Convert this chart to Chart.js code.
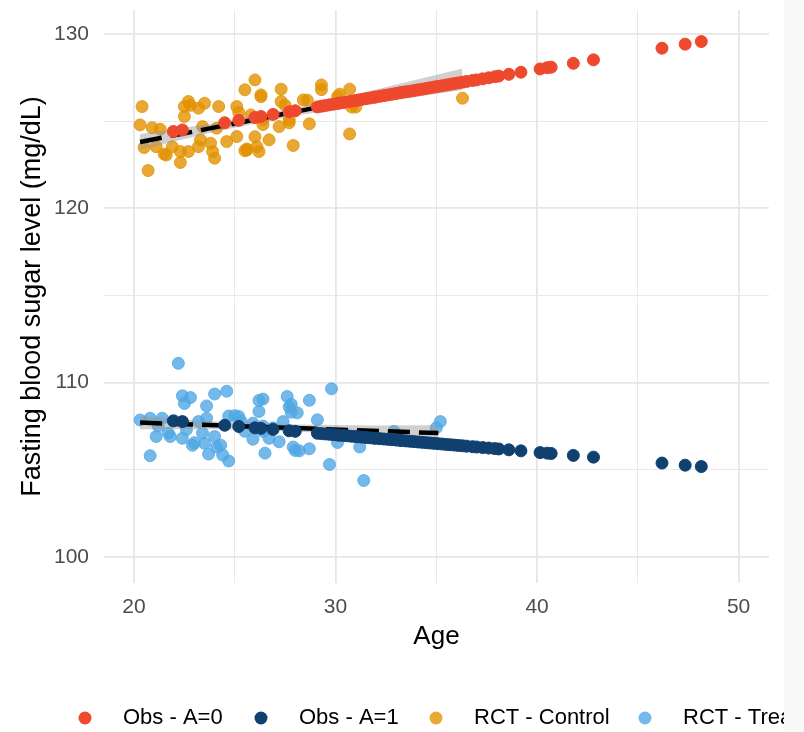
<!DOCTYPE html>
<html>
<head>
<meta charset="utf-8">
<script src="https://cdn.jsdelivr.net/npm/chart.js@4"></script>
<style>
  html, body { margin: 0; padding: 0; background: #fff; }
  #wrap { position: relative; width: 804px; height: 732px; overflow: hidden; }
  #strip { position: absolute; top: 0; left: 784px; width: 20px; height: 732px; background: #f8f8f8; }
</style>
</head>
<body>
<div id="wrap">
  <canvas id="chart" width="804" height="732"></canvas>
  <div id="strip"></div>
</div>
<script>
// observational cohort: ages shared by both arms
const obsAge = [21.95, 22.4, 24.5, 25.2, 26.0, 26.3, 26.9, 27.7, 28.0, 29.1, 29.3, 29.5, 29.7, 29.9,
  30.1, 30.2, 30.4, 30.6, 30.8, 31.0, 31.1, 31.3, 31.5, 31.7, 31.9, 32.0, 32.2, 32.4, 32.6, 32.8,
  33.0, 33.2, 33.3, 33.5, 33.7, 33.9, 34.1, 34.3, 34.5, 34.7, 34.9, 35.1, 35.3, 35.5, 35.7, 35.9,
  36.1, 36.3, 36.5, 36.8, 37.0, 37.3, 37.6, 37.9, 38.1, 38.6, 39.2, 40.15, 40.5, 40.7, 41.8, 42.8,
  46.2, 47.35, 48.15];
const obsA0 = [124.40, 124.49, 124.90, 125.04, 125.20, 125.26, 125.38, 125.53, 125.59, 125.81, 125.85,
  125.89, 125.93, 125.97, 126.01, 126.03, 126.06, 126.10, 126.14, 126.18, 126.20, 126.24, 126.28,
  126.32, 126.36, 126.38, 126.42, 126.46, 126.50, 126.54, 126.58, 126.62, 126.64, 126.68, 126.71,
  126.75, 126.79, 126.83, 126.87, 126.91, 126.95, 126.99, 127.03, 127.07, 127.11, 127.15, 127.19,
  127.23, 127.27, 127.33, 127.36, 127.42, 127.48, 127.54, 127.58, 127.68, 127.80, 127.99, 128.06,
  128.09, 128.31, 128.51, 129.18, 129.41, 129.56];
const obsA1 = [107.80, 107.76, 107.55, 107.48, 107.40, 107.37, 107.31, 107.23, 107.20, 107.09, 107.07,
  107.05, 107.03, 107.01, 106.99, 106.98, 106.96, 106.94, 106.92, 106.90, 106.89, 106.87, 106.85,
  106.83, 106.81, 106.80, 106.78, 106.76, 106.74, 106.72, 106.70, 106.68, 106.67, 106.65, 106.63,
  106.61, 106.59, 106.57, 106.55, 106.53, 106.51, 106.49, 106.47, 106.45, 106.43, 106.41, 106.39,
  106.37, 106.35, 106.32, 106.30, 106.27, 106.24, 106.21, 106.19, 106.14, 106.08, 105.98, 105.95,
  105.93, 105.82, 105.72, 105.38, 105.26, 105.18];

// RCT control arm
const ctrlAge = [20.4, 20.3, 20.9, 21.3, 20.5, 20.7, 21.1, 21.5, 21.6, 21.9, 22.3, 22.3, 22.7, 22.5,
  22.5, 22.7, 22.8, 23.2, 23.5, 23.2, 23.3, 23.8, 23.9, 24.0, 24.2, 23.4, 24.1, 24.6, 25.1, 25.2,
  25.1, 25.5, 26.0, 26.3, 26.3, 25.6, 25.6, 26.0, 26.1, 26.2, 26.4, 25.8, 26.4, 26.7, 27.2, 27.3,
  27.3, 27.5, 27.7, 27.9, 28.4, 28.7, 29.3, 29.3, 30.2, 30.7, 30.7, 30.8, 36.3, 30.1, 27.7, 25.5,
  28.6, 31.0];
const ctrlY = [125.83, 124.78, 124.62, 124.53, 123.48, 122.16, 123.53, 123.10, 123.05, 123.53, 122.62,
  123.25, 123.25, 125.26, 125.83, 126.12, 125.90, 125.74, 126.02, 123.53, 123.92, 123.73, 123.25,
  122.87, 125.83, 124.68, 124.59, 123.82, 125.83, 125.49, 124.11, 126.79, 127.36, 126.50, 126.40,
  123.34, 123.40, 124.10, 123.53, 123.25, 124.80, 125.35, 125.07, 123.92, 124.68, 126.83, 126.12,
  125.90, 125.07, 123.60, 126.21, 124.84, 127.07, 126.80, 126.54, 126.83, 124.26, 125.80, 126.31,
  126.40, 124.90, 123.30, 126.20, 125.80];

// RCT treated arm
const trtAge = [22.2, 22.4, 22.8, 22.5, 20.3, 20.8, 21.4, 21.1, 20.8, 21.7, 21.8, 22.4, 22.9, 23.0,
  23.2, 23.4, 23.6, 23.6, 23.5, 23.7, 24.0, 24.0, 24.1, 24.3, 24.4, 24.6, 24.7, 24.7, 25.0, 25.2,
  25.3, 25.9, 25.9, 26.2, 26.2, 26.4, 26.4, 26.4, 26.5, 26.7, 27.2, 27.4, 27.6, 27.7, 27.8, 27.8,
  27.9, 28.0, 28.1, 28.2, 28.7, 28.7, 29.1, 29.8, 29.7, 30.1, 31.4, 31.2, 35.2, 35.0, 32.9, 21.2,
  22.0, 22.6, 25.5, 26.9];
const trtY = [111.10, 109.24, 109.14, 108.80, 107.85, 107.95, 107.95, 106.90, 105.80, 107.10, 106.90,
  106.80, 106.40, 106.55, 107.76, 107.10, 108.66, 107.95, 106.51, 105.90, 109.34, 106.90, 106.30,
  106.40, 105.84, 109.50, 105.50, 108.08, 108.10, 108.05, 107.80, 107.67, 106.75, 108.34, 108.97,
  109.05, 107.50, 107.20, 105.95, 106.80, 106.60, 107.76, 109.20, 108.60, 108.30, 108.75, 106.30,
  106.10, 108.26, 106.08, 108.98, 106.20, 107.86, 109.64, 105.30, 106.56, 104.38, 106.30, 107.76,
  107.40, 107.20, 107.50, 107.80, 107.30, 107.20, 107.40];

// linear fits on the RCT arms, with confidence bands
const ctrlFitAge = [20.3, 36.3];
const ctrlFitY = [123.8, 127.4];
const ctrlBandAge = [20.3, 24, 28, 32, 36.3];
const ctrlBandLo = [123.35, 124.38, 125.31, 126.05, 126.78];
const ctrlBandHi = [124.25, 124.88, 125.75, 126.81, 128.02];
const trtFitAge = [20.3, 35.1];
const trtFitY = [107.7, 107.1];
const trtBandAge = [20.3, 24, 28, 32, 35.1];
const trtBandLo = [107.32, 107.33, 107.19, 106.93, 106.65];
const trtBandHi = [108.08, 107.77, 107.59, 107.53, 107.55];

const xMajor = [20, 30, 40, 50];
const xMinor = [25, 35, 45];
const yMajor = [100, 110, 120, 130];
const yMinor = [105, 115, 125];

const seriesLabels = ["Obs - A=0", "Obs - A=1", "RCT - Control", "RCT - Treated"];
const seriesColors = ["#ee482d", "#104070", "rgba(226,146,0,0.8)", "rgba(80,168,228,0.8)"];

const xTitle = "Age";
const yTitle = "Fasting blood sugar level (mg/dL)";

const FONT = '"Liberation Sans", Arial, Helvetica, sans-serif';

function pts(xs, ys) {
  return xs.map((x, i) => ({ x, y: ys[i] }));
}

function scatterSet(label, xs, ys, color, radius, order) {
  return {
    type: "scatter",
    label,
    data: pts(xs, ys),
    backgroundColor: color,
    borderColor: color,
    borderWidth: 1,
    pointRadius: radius,
    order,
  };
}

const bandFill = "rgba(150,150,150,0.45)";

const annotate = {
  id: "annotate",
  afterDraw(chart) {
    const c = chart.ctx;
    const area = chart.chartArea;
    c.save();
    c.fillStyle = "#000";
    c.font = "26px " + FONT;
    c.textAlign = "center";
    c.textBaseline = "middle";
    c.fillText(xTitle, (area.left + area.right) / 2, 637);
    c.font = "27px " + FONT;
    c.translate(33, (area.top + area.bottom) / 2);
    c.rotate(-Math.PI / 2);
    c.fillText(yTitle, 0, 0);
    c.restore();

    // legend along the bottom
    const keyX = [85, 261, 436, 645];
    c.save();
    c.font = "22px " + FONT;
    c.textBaseline = "middle";
    c.textAlign = "left";
    seriesLabels.forEach((lab, i) => {
      c.beginPath();
      c.arc(keyX[i], 718, 6.5, 0, Math.PI * 2);
      c.fillStyle = seriesColors[i];
      c.fill();
      c.fillStyle = "#000";
      c.fillText(lab, keyX[i] + 38, 718);
    });
    c.restore();
  },
};

function noPad(s) {
  s.paddingTop = 0;
  s.paddingBottom = 0;
  s.paddingLeft = 0;
  s.paddingRight = 0;
}

const ctx = document.getElementById("chart").getContext("2d");
new Chart(ctx, {
  data: {
    datasets: [
      scatterSet(seriesLabels[0], obsAge, obsA0, seriesColors[0], 6, 0),
      scatterSet(seriesLabels[1], obsAge, obsA1, seriesColors[1], 6, 0),
      {
        type: "line", data: pts(ctrlFitAge, ctrlFitY), borderColor: "#000",
        borderWidth: 4.5, borderDash: [22, 9], pointRadius: 0, fill: false, order: 1,
      },
      {
        type: "line", data: pts(trtFitAge, trtFitY), borderColor: "#000",
        borderWidth: 4.5, borderDash: [22, 9], pointRadius: 0, fill: false, order: 1,
      },
      {
        type: "line", data: pts(ctrlBandAge, ctrlBandLo), borderWidth: 0,
        pointRadius: 0, fill: false, order: 2,
      },
      {
        type: "line", data: pts(ctrlBandAge, ctrlBandHi), borderWidth: 0,
        pointRadius: 0, fill: "-1", backgroundColor: bandFill, order: 2,
      },
      {
        type: "line", data: pts(trtBandAge, trtBandLo), borderWidth: 0,
        pointRadius: 0, fill: false, order: 2,
      },
      {
        type: "line", data: pts(trtBandAge, trtBandHi), borderWidth: 0,
        pointRadius: 0, fill: "-1", backgroundColor: bandFill, order: 2,
      },
      scatterSet(seriesLabels[2], ctrlAge, ctrlY, seriesColors[2], 6, 3),
      scatterSet(seriesLabels[3], trtAge, trtY, seriesColors[3], 6, 3),
    ],
  },
  options: {
    responsive: false,
    animation: false,
    events: [],
    layout: { padding: { left: 0, right: 35, top: 10, bottom: 0 } },
    plugins: {
      legend: { display: false },
      tooltip: { enabled: false },
    },
    scales: {
      x: {
        type: "linear",
        min: 18.51,
        max: 51.51,
        afterBuildTicks: (s) => {
          s.ticks = xMajor.concat(xMinor).sort((a, b) => a - b).map((v) => ({ value: v }));
        },
        afterFit: (s) => { s.height = 149; noPad(s); },
        border: { display: false },
        grid: {
          drawTicks: false,
          color: "#e6e6e6",
          lineWidth: (c) => (xMajor.includes(c.tick.value) ? 1.8 : 0.9),
        },
        ticks: {
          padding: 12,
          color: "#4d4d4d",
          font: { family: FONT, size: 21 },
          callback: (v) => (xMajor.includes(v) ? String(v) : ""),
        },
      },
      y: {
        type: "linear",
        min: 98.5,
        max: 131.37,
        afterBuildTicks: (s) => {
          s.ticks = yMajor.concat(yMinor).sort((a, b) => a - b).map((v) => ({ value: v }));
        },
        afterFit: (s) => { s.width = 104; noPad(s); },
        border: { display: false },
        grid: {
          drawTicks: false,
          color: "#e6e6e6",
          lineWidth: (c) => (yMajor.includes(c.tick.value) ? 1.8 : 0.9),
        },
        ticks: {
          padding: 15,
          color: "#4d4d4d",
          font: { family: FONT, size: 21 },
          callback: (v) => (yMajor.includes(v) ? String(v) : ""),
        },
      },
    },
  },
  plugins: [annotate],
});
</script>
</body>
</html>
